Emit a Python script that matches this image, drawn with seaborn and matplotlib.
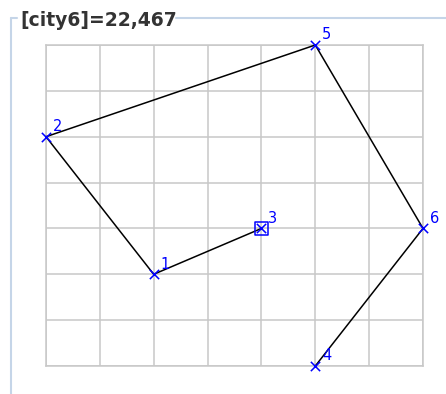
import matplotlib
matplotlib.use("Agg")
import matplotlib.pyplot as plt
import seaborn as sns
import pandas as pd
from matplotlib.lines import Line2D

# -------------------------------
# DATA
# -------------------------------
city_ids = [1, 2, 3, 4, 5, 6]
city_x = [2, 0, 4, 5, 5, 7]
city_y = [2, 5, 3, 0, 7, 3]
route = [3, 1, 2, 5, 6, 4]
start_city = 3
title = "[city6]=22,467"

cities = pd.DataFrame({"id": city_ids, "x": city_x, "y": city_y}).set_index("id")
path = cities.loc[route].reset_index()

sns.set_style("white")
plt.rcParams["font.family"] = ["DejaVu Sans"]

fig = plt.figure(figsize=(4.46, 3.94), dpi=100)
ax = fig.add_axes([46 / 446, 28 / 394, 377 / 446, 321 / 394])

# route
sns.lineplot(data=path, x="x", y="y", sort=False, estimator=None,
             color="black", linewidth=1.1, ax=ax, zorder=3)
# cities
sns.scatterplot(data=cities.reset_index(), x="x", y="y", marker="x",
                color="blue", s=45, linewidth=1.1, ax=ax, zorder=4)
ax.scatter([cities.loc[start_city, "x"]], [cities.loc[start_city, "y"]],
           marker="s", s=90, facecolors="none", edgecolors="blue",
           linewidths=1.1, zorder=5)

for cid, row in cities.iterrows():
    ax.annotate(str(cid), (row["x"], row["y"]), xytext=(5, 4),
                textcoords="offset points", color="blue", fontsize=10.5)

ax.set_xlim(0, 7)
ax.set_ylim(0, 7)
ax.set_xticks(range(8))
ax.set_yticks(range(8))
ax.grid(True, color="#c8c8c8", linewidth=1.1)
ax.tick_params(length=0, labelbottom=False, labelleft=False)
ax.set_xlabel("")
ax.set_ylabel("")
for sp in ax.spines.values():
    sp.set_color("#c8c8c8")
    sp.set_linewidth(1.1)
for c in ax.collections:
    c.set_clip_on(False)
for l in ax.lines:
    l.set_clip_on(False)

# fieldset-like frame
frame_color = "#c5d5e8"
W, H = 446, 394
fig.add_artist(Line2D([11 / W, 11 / W], [0, 1 - 18 / H], color=frame_color, linewidth=1.5))
fig.add_artist(Line2D([11 / W, 17 / W], [1 - 18 / H, 1 - 18 / H], color=frame_color, linewidth=1.5))
fig.add_artist(Line2D([176 / W, 1], [1 - 18 / H, 1 - 18 / H], color=frame_color, linewidth=1.5))
fig.text(20 / W, 1 - 20 / H, title, fontsize=13.5, fontweight="bold",
         color="#333333", va="center", ha="left")

fig.savefig("out.png", dpi=100)
